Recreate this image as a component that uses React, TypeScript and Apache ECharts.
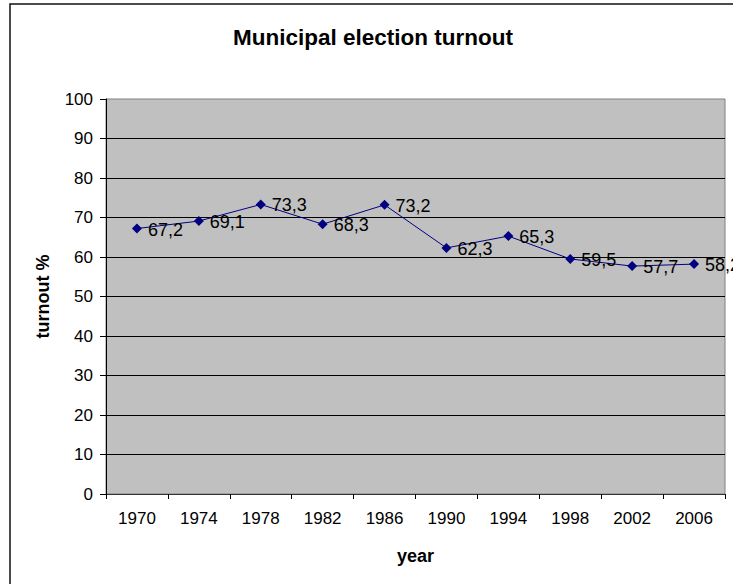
import React, { useEffect, useRef } from "react";
import * as echarts from "echarts";

// Election years and turnout (%)
const years = ["1970", "1974", "1978", "1982", "1986", "1990", "1994", "1998", "2002", "2006"];
const turnout = [67.2, 69.1, 73.3, 68.3, 73.2, 62.3, 65.3, 59.5, 57.7, 58.2];

const FONT = "Arial, 'Liberation Sans', sans-serif";

export default function App() {
  const ref = useRef<HTMLDivElement>(null);

  useEffect(() => {
    if (!ref.current) return;
    const chart = echarts.init(ref.current, null, { renderer: "svg" });
    chart.setOption({
      animation: false,
      backgroundColor: "#ffffff",
      textStyle: { fontFamily: FONT },
      title: {
        text: "Municipal election turnout",
        left: 233,
        top: 26,
        padding: 0,
        textStyle: { fontFamily: FONT, fontSize: 22.5, fontWeight: "bold", color: "#000" },
      },
      graphic: [
        {
          type: "rect",
          shape: { x: 10, y: 4, width: 740, height: 600 },
          style: { fill: "none", stroke: "#111", lineWidth: 1.5 },
          silent: true,
          z: 100,
        },
      ],
      grid: {
        left: 106,
        top: 99,
        right: 8,
        bottom: 90,
        show: true,
        backgroundColor: "#C0C0C0",
        borderColor: "#808080",
        borderWidth: 1,
      },
      xAxis: {
        type: "category",
        data: years,
        boundaryGap: true,
        name: "year",
        nameLocation: "middle",
        nameGap: 53,
        nameTextStyle: { fontFamily: FONT, fontSize: 18, fontWeight: "bold", color: "#000" },
        axisLine: { show: true, lineStyle: { color: "#333", width: 1 } },
        axisTick: { show: true, length: 5, lineStyle: { color: "#000" } },
        axisLabel: { fontFamily: FONT, fontSize: 17, color: "#000", margin: 16 },
        splitLine: { show: false },
      },
      yAxis: {
        type: "value",
        min: 0,
        max: 100,
        interval: 10,
        name: "turnout %",
        nameLocation: "middle",
        nameRotate: 90,
        nameGap: 54,
        nameTextStyle: { fontFamily: FONT, fontSize: 18, fontWeight: "bold", color: "#000" },
        axisLine: { show: true, lineStyle: { color: "#000", width: 1 } },
        axisTick: { show: true, length: 6, lineStyle: { color: "#000" } },
        axisLabel: { fontFamily: FONT, fontSize: 17, color: "#000", margin: 13 },
        splitLine: { show: true, showMaxLine: false, lineStyle: { color: "#000", width: 1 } },
      },
      series: [
        {
          type: "line",
          data: turnout,
          symbol: "diamond",
          symbolSize: 10,
          lineStyle: { color: "#000080", width: 1 },
          itemStyle: { color: "#000080" },
          label: {
            show: true,
            position: "right",
            distance: 6,
            offset: [0, 1],
            fontFamily: FONT,
            fontSize: 18,
            color: "#000",
            formatter: (p: any) => String(p.value).replace(".", ","),
          },
        },
      ],
    });
    return () => chart.dispose();
  }, []);

  return (
    <div
      ref={ref}
      style={{ position: "fixed", left: 0, top: 0, width: 733, height: 584 }}
    />
  );
}
